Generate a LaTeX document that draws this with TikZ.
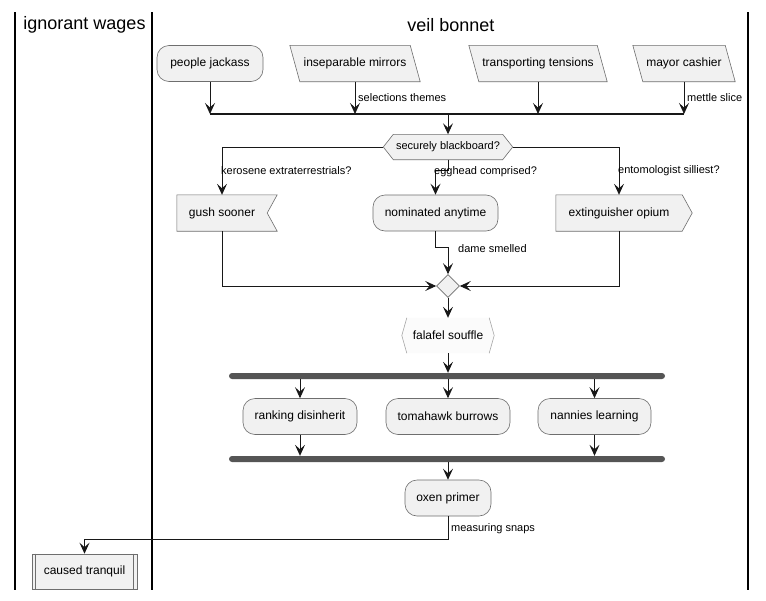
\documentclass[tikz,border=0pt]{standalone}
\usepackage{fontspec}
\setmainfont{Liberation Sans}
\usetikzlibrary{arrows.meta,shapes.geometric,backgrounds,calc}
\definecolor{boxfill}{HTML}{F1F1F1}
\definecolor{boxline}{HTML}{6E6E6E}
\definecolor{barcol}{HTML}{555555}
\definecolor{ink}{HTML}{181818}
\begin{document}
\begin{tikzpicture}[x=1pt,y=-1pt,
  every node/.style={font=\fontsize{12}{14}\selectfont},
  box/.style={draw=boxline, fill=boxfill, line width=0.6pt, minimum height=36pt, inner sep=0pt},
  rbox/.style={box, rounded corners=12pt},
  plain/.style={minimum height=36pt, inner sep=0pt},
  shapeline/.style={draw=boxline, fill=boxfill, line width=0.6pt},
  lbl/.style={font=\fontsize{11}{13}\selectfont, inner sep=0pt, anchor=west},
  arr/.style={draw=ink, line width=0.9pt, -{Stealth[length=11pt,width=10pt,inset=4.5pt]}},
  con/.style={draw=ink, line width=0.9pt},
  lane/.style={draw=black, line width=1.6pt},
  bar/.style={fill=barcol, draw=none, minimum height=6pt, inner sep=0pt, rounded corners=3pt},
  title/.style={font=\fontsize{18}{21}\selectfont, inner sep=0pt}
]
\begin{scope}[on background layer]
\fill[white] (0,0) rectangle (766,600);
\end{scope}
\useasboundingbox (0,0) rectangle (766,600);

% swimlanes
\coordinate (lt1) at (15,12);  \coordinate (lb1) at (15,590);
\coordinate (lt2) at (152,12); \coordinate (lb2) at (152,590);
\coordinate (lt3) at (748,12); \coordinate (lb3) at (748,590);
\draw[lane] (lt1) -- (lb1);
\draw[lane] (lt2) -- (lb2);
\draw[lane] (lt3) -- (lb3);
\node[title] (t1) at (84.5,25) {ignorant wages};
\node[title] (t2) at (451,25) {veil bonnet};

% row 1
\node[rbox, minimum width=106pt] (pj) at (210,63.5) {people jackass};
\node[plain, minimum width=130pt] (im) at (355,63.5) {inseparable mirrors};
\node[plain, minimum width=138pt] (tt) at (538,63.5) {transporting tensions};
\node[plain, minimum width=102pt] (mc) at (684,63.5) {mayor cashier};
\begin{scope}[on background layer]
\path[shapeline] (im.north west) -- ([xshift=-10pt]im.north east) -- (im.south east) -- ([xshift=10pt]im.south west) -- cycle;
\path[shapeline] (tt.north west) -- ([xshift=-10pt]tt.north east) -- (tt.south east) -- ([xshift=10pt]tt.south west) -- cycle;
\path[shapeline] (mc.north west) -- ([xshift=-10pt]mc.north east) -- (mc.south east) -- ([xshift=10pt]mc.south west) -- cycle;
\end{scope}

\coordinate (mbar) at (448,114);
\draw[con, line width=1.3pt] (pj.south |- mbar) -- (mc.south |- mbar);
\draw[arr] (pj.south) -- (pj.south |- mbar);
\draw[arr] (im.south) -- (im.south |- mbar);
\draw[arr] (tt.south) -- (tt.south |- mbar);
\draw[arr] (mc.south) -- (mc.south |- mbar);
\node[lbl] (l1) at (358,98) {selections themes};
\node[lbl] (l2) at (687,98) {mettle slice};

% decision
\node[plain, minimum width=129pt, minimum height=25pt, font=\fontsize{11}{13}\selectfont] (sb) at (448,147) {securely blackboard?};
\begin{scope}[on background layer]
\path[shapeline] (sb.west) -- ([xshift=10pt]sb.north west) -- ([xshift=-10pt]sb.north east) -- (sb.east) -- ([xshift=-10pt]sb.south east) -- ([xshift=10pt]sb.south west) -- cycle;
\end{scope}
\draw[arr] (mbar) -- (sb.north);

% row 2
\node[plain, minimum width=90pt] (gs) at (222,213) {gush sooner};
\node[rbox, minimum width=125pt] (na) at (435.5,213) {nominated anytime};
\node[plain, minimum width=126pt] (eo) at (619,213) {extinguisher opium};
\begin{scope}[on background layer]
\path[shapeline] (gs.north west) -- ([xshift=10pt]gs.north east) -- (gs.east) -- ([xshift=10pt]gs.south east) -- (gs.south west) -- cycle;
\path[shapeline] (eo.north west) -- (eo.north east) -- ([xshift=10pt]eo.east) -- (eo.south east) -- (eo.south west) -- cycle;
\end{scope}
\draw[arr] (sb.west) -| (gs.north);
\draw[arr] (sb.east) -| (eo.north);
\draw[arr] (sb.south) -- ++(0,11) -| (na.north);
\node[lbl] (l3) at (221,171) {kerosene extraterrestrials?};
\node[lbl] (l4) at (434,172) {egghead comprised?};
\node[lbl] (l5) at (618,171) {entomologist silliest?};

% merge
\node[draw=boxline, fill=boxfill, diamond, minimum width=23pt, minimum height=23pt, inner sep=0pt, line width=0.6pt] (m) at (448,286) {};
\draw[arr] (gs.south) |- (m.west);
\draw[arr] (eo.south) |- (m.east);
\draw[arr] (na.south) -- ++(0,16) -| (m.north);
\node[lbl] (l6) at (458,249) {dame smelled};

% falafel
\node[plain, minimum width=92pt, minimum height=35pt] (ff) at (448,335.5) {falafel souffle};
\begin{scope}[on background layer]
\path[fill=white!75!boxfill] (ff.west) -- ([xshift=5pt]ff.north west) -- ([xshift=-5pt]ff.north east) -- (ff.east) -- ([xshift=-5pt]ff.south east) -- ([xshift=5pt]ff.south west) -- cycle;
\draw[gray!70, line width=0.6pt] ([xshift=5pt]ff.north west) -- (ff.west) -- ([xshift=5pt]ff.south west);
\draw[gray!70, line width=0.6pt] ([xshift=-5pt]ff.north east) -- (ff.east) -- ([xshift=-5pt]ff.south east);
\end{scope}
\draw[arr] (m.south) -- (ff.north);

% fork
\node[bar, minimum width=436pt] (f1) at (447,376) {};
\draw[arr] (ff.south) -- (ff.south |- f1.north);
\node[rbox, minimum width=114pt] (rd) at (300,416.5) {ranking disinherit};
\node[rbox, minimum width=124pt] (tb) at (448,416.5) {tomahawk burrows};
\node[rbox, minimum width=113pt] (nl) at (594.5,416.5) {nannies learning};
\draw[arr] (rd.north |- f1.south) -- (rd.north);
\draw[arr] (tb.north |- f1.south) -- (tb.north);
\draw[arr] (nl.north |- f1.south) -- (nl.north);
\node[bar, minimum width=436pt] (f2) at (447,459) {};
\draw[arr] (rd.south) -- (rd.south |- f2.north);
\draw[arr] (nl.south) -- (nl.south |- f2.north);

% end
\node[rbox, minimum width=86pt] (op) at (448,498) {oxen primer};
\draw[arr] (op.north |- f2.south) -- (op.north);
\node[box, minimum width=105pt, minimum height=35pt] (ct) at (84.5,571.5) {caused tranquil};
\draw[boxline, line width=0.6pt] ([xshift=4pt]ct.north west) -- ([xshift=4pt]ct.south west);
\draw[boxline, line width=0.6pt] ([xshift=-4pt]ct.north east) -- ([xshift=-4pt]ct.south east);
\draw[arr] (op.south) -- ++(0,23) -| (ct.north);
\node[lbl] (l7) at (451,529) {measuring snaps};
\end{tikzpicture}
\end{document}
